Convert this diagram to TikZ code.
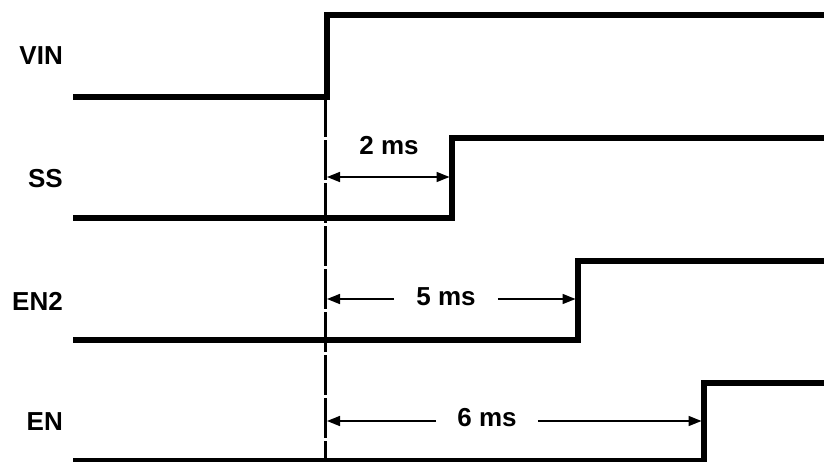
\documentclass[tikz,border=0pt]{standalone}
\usepackage{fontspec}
\setmainfont{Liberation Sans}
\usetikzlibrary{arrows.meta}
\begin{document}
\begin{tikzpicture}[x=1pt,y=-1pt,
  sig/.style={line width=5.5pt, line join=miter},
  lbl/.style={font=\fontsize{26}{26}\selectfont\bfseries, anchor=east, inner sep=0pt},
  tlbl/.style={font=\fontsize{26}{26}\selectfont\bfseries, inner ysep=0pt},
  dim/.style={line width=1.6pt, -{Triangle[length=13pt,width=10pt]}},
  dimboth/.style={line width=1.6pt, {Triangle[length=13pt,width=10pt]}-{Triangle[length=13pt,width=10pt]}},
  guide/.style={line width=3pt, dash pattern=on 40pt off 3pt}]
\useasboundingbox (0,0) rectangle (824,461);
% labels
\node[lbl] (lvin) at (63,56) {VIN};
\node[lbl] (lss) at (63,179) {SS};
\node[lbl] (len2) at (63,301) {EN2};
\node[lbl] (len) at (63,422) {EN};
% VIN
\coordinate (v0) at (73,97); \coordinate (v1) at (327,97);
\coordinate (v2) at (327,15); \coordinate (v3) at (830,15);
\draw[sig] (v0) -- (v1) -- (v2) -- (v3);
% SS
\coordinate (s0) at (73,218); \coordinate (s1) at (452,218);
\coordinate (s2) at (452,138); \coordinate (s3) at (830,138);
\draw[sig] (s0) -- (s1) -- (s2) -- (s3);
% EN2
\coordinate (e0) at (73,340); \coordinate (e1) at (578,340);
\coordinate (e2) at (578,261); \coordinate (e3) at (830,261);
\draw[sig] (e0) -- (e1) -- (e2) -- (e3);
% EN
\coordinate (n0) at (73,460.5); \coordinate (n1) at (704,460.5);
\coordinate (n2) at (704,383); \coordinate (n3) at (830,383);
\draw[sig] (n0) -- (n1) -- (n2) -- (n3);
% guide line
\coordinate (g0) at (325,97); \coordinate (g1) at (325,470);
\draw[guide] (g0) -- (g1);
% 2 ms
\coordinate (a2l) at (327,177); \coordinate (a2r) at (449.5,177);
\draw[dimboth] (a2l) -- (a2r);
\node[tlbl, inner xsep=0pt] (t2) at (389,146) {2 ms};
% 5 ms
\node[tlbl, inner xsep=22pt] (t5) at (446,297) {5 ms};
\coordinate (a5l) at (327,299); \coordinate (a5r) at (575.5,299);
\draw[dim] (t5.west |- a5l) -- (a5l);
\draw[dim] (t5.east |- a5r) -- (a5r);
% 6 ms
\node[tlbl, inner xsep=21pt] (t6) at (487,418) {6 ms};
\coordinate (a6l) at (327,421); \coordinate (a6r) at (701.5,421);
\draw[dim] (t6.west |- a6l) -- (a6l);
\draw[dim] (t6.east |- a6r) -- (a6r);
\end{tikzpicture}
\end{document}
